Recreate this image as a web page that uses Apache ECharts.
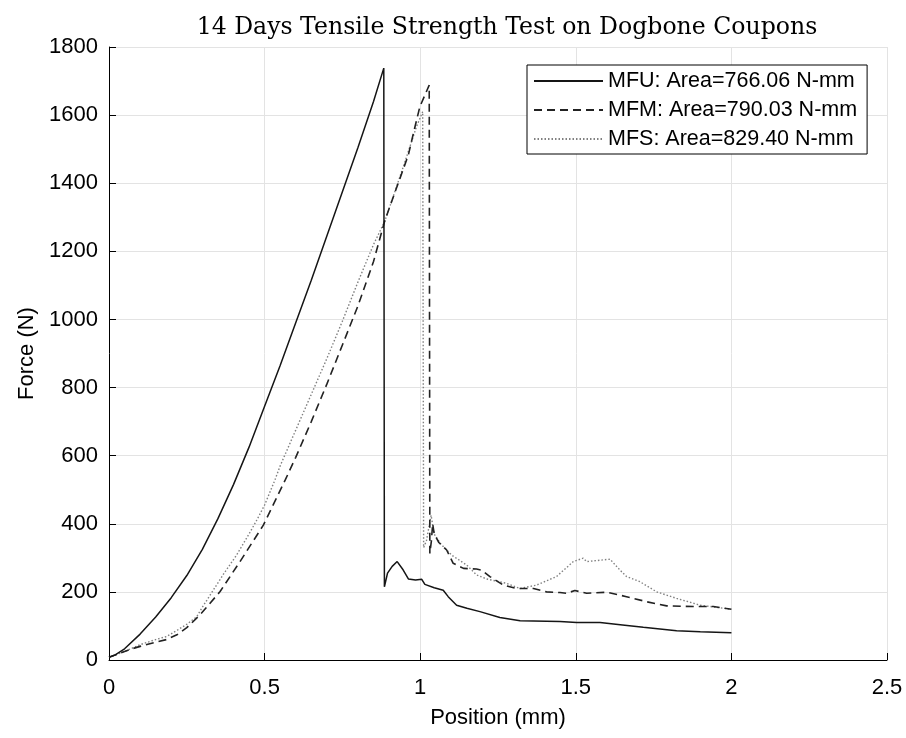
<!DOCTYPE html>
<html>
<head>
<meta charset="utf-8">
<script src="https://cdn.jsdelivr.net/npm/echarts@6/dist/echarts.min.js"></script>
<style>
  html, body {margin: 0; padding: 0; background: #fff;}
  #main {width: 906px; height: 738px;}
</style>
</head>
<body>
<div id="main"></div>
<script>
// 14天拉伸试验数据
var xTicks = [0, 0.5, 1, 1.5, 2, 2.5];
var yTicks = [0, 200, 400, 600, 800, 1000, 1200, 1400, 1600, 1800];

var seriesNames = ["MFU: Area=766.06 N-mm", "MFM: Area=790.03 N-mm", "MFS: Area=829.40 N-mm"];

var mfuX = [0, 0.02, 0.05, 0.1, 0.15, 0.2, 0.25, 0.3, 0.35, 0.4, 0.45, 0.5, 0.55, 0.6, 0.65, 0.7, 0.75, 0.8, 0.85, 0.883,
    0.885, 0.895, 0.91, 0.926, 0.945, 0.962, 0.985, 1.005, 1.015, 1.045, 1.074, 1.09, 1.117, 1.15, 1.192, 1.256,
    1.321, 1.406, 1.449, 1.503, 1.578, 1.65, 1.717, 1.824, 1.9, 2.0];
var mfuY = [8, 15, 33, 76, 126, 183, 248, 325, 415, 515, 625, 745, 865, 990, 1115, 1245, 1375, 1505, 1640, 1738,
    215, 255, 275, 289, 265, 238, 235, 237, 222, 212, 205, 186, 161, 152, 142, 125,
    115, 114, 113, 110, 110, 103, 96, 86, 83, 80];

var mfmX = [0, 0.05, 0.078, 0.1, 0.15, 0.185, 0.22, 0.25, 0.292, 0.357, 0.421, 0.496, 0.566, 0.6, 0.65, 0.7, 0.75, 0.8,
    0.85, 0.885, 0.9, 0.962, 0.978, 0.999, 1.029, 1.031, 1.036, 1.04, 1.045, 1.06, 1.085, 1.106, 1.139, 1.181, 1.197,
    1.224, 1.267, 1.31, 1.364, 1.406, 1.449, 1.471, 1.497, 1.535, 1.599, 1.663, 1.728, 1.792, 1.878, 1.942, 2.0];
var mfmY = [8, 25, 34, 40, 52, 60, 75, 95, 132, 201, 289, 396, 528, 595, 700, 810, 925, 1040,
    1170, 1286, 1325, 1483, 1546, 1625, 1688, 313, 350, 400, 370, 345, 323, 284, 269, 267, 264,
    245, 220, 210, 210, 200, 198, 196, 204, 196, 199, 186, 171, 159, 157, 157, 149];

var mfsX = [0, 0.05, 0.1, 0.15, 0.185, 0.22, 0.25, 0.282, 0.3, 0.335, 0.37, 0.41, 0.45, 0.475, 0.5, 0.533, 0.55, 0.6,
    0.65, 0.7, 0.75, 0.8, 0.85, 0.885, 0.9, 0.95, 0.988, 1.008, 1.011, 1.02, 1.035, 1.045, 1.064, 1.101, 1.149, 1.181,
    1.213, 1.278, 1.321, 1.374, 1.438, 1.492, 1.524, 1.535, 1.61, 1.642, 1.663, 1.706, 1.76, 1.824, 1.899, 2.0];
var mfsY = [8, 25, 45, 60, 69, 88, 105, 127, 155, 205, 255, 308, 370, 411, 455, 528, 570, 675,
    780, 885, 995, 1110, 1220, 1286, 1325, 1460, 1566, 1610, 330, 350, 425, 370, 343, 308, 279, 250,
    238, 225, 210, 220, 245, 289, 299, 289, 296, 264, 245, 230, 200, 181, 161, 149];

function pairs(xs, ys){
    var out = [];
    for (var i = 0; i < xs.length; i ++)
        out.push([xs[i], ys[i]]);
    return out;
}

var labelFont = "'Liberation Sans', Arial, sans-serif";

var option = {
    backgroundColor: '#fff',
    animation: false,
    title: {
        text: "14 Days Tensile Strength Test on Dogbone Coupons",
        left: 502,
        top: 11,
        textAlign: 'center',
        textStyle: {fontFamily: "'DejaVu Serif', serif", fontSize: 23.6, fontWeight: 'normal', color: '#000'}
    },
    grid: {left: 109, right: 19, top: 47, bottom: 78, containLabel: false},
    legend: {
        orient: 'vertical',
        left: 527,
        top: 65,
        padding: [5, 10, 4, 6],
        itemGap: 7,
        itemWidth: 69,
        itemHeight: 14,
        borderColor: '#000',
        borderWidth: 1,
        backgroundColor: '#fff',
        itemStyle: {opacity: 0},
        textStyle: {fontFamily: labelFont, fontSize: 21.5, color: '#000'},
        data: seriesNames
    },
    xAxis: {
        type: 'value',
        min: 0, max: 2.5, interval: 0.5,
        name: 'Position (mm)',
        nameLocation: 'middle',
        nameGap: 47,
        nameTextStyle: {fontFamily: labelFont, fontSize: 22, color: '#000'},
        axisLine: {show: true, onZero: false, lineStyle: {color: '#000', width: 1}},
        axisTick: {show: true, inside: true, length: 7, lineStyle: {color: '#000'}},
        axisLabel: {fontFamily: labelFont, fontSize: 22, color: '#000', margin: 17,
            formatter: function(v){ return String(v); }},
        splitLine: {show: true, lineStyle: {color: '#e3e3e3', width: 1}}
    },
    yAxis: {
        type: 'value',
        min: 0, max: 1800, interval: 200,
        name: 'Force (N)',
        nameLocation: 'middle',
        nameGap: 59,
        nameRotate: 90,
        nameTextStyle: {fontFamily: labelFont, fontSize: 22, color: '#000'},
        axisLine: {show: true, lineStyle: {color: '#000', width: 1}},
        axisTick: {show: true, inside: true, length: 7, lineStyle: {color: '#000'}},
        axisLabel: {fontFamily: labelFont, fontSize: 22, color: '#000', margin: 11,
            formatter: function(v){ return String(v); }},
        splitLine: {show: true, lineStyle: {color: '#e3e3e3', width: 1}}
    },
    series: [
        {name: seriesNames[0], type: 'line', data: pairs(mfuX, mfuY), symbol: 'none',
            itemStyle: {color: '#151515'},
            lineStyle: {color: '#151515', width: 1.5, type: 'solid'}, z: 4},
        {name: seriesNames[1], type: 'line', data: pairs(mfmX, mfmY), symbol: 'none',
            itemStyle: {color: '#222'},
            lineStyle: {color: '#222', width: 1.6, type: [8, 5]}, z: 3},
        {name: seriesNames[2], type: 'line', data: pairs(mfsX, mfsY), symbol: 'none',
            itemStyle: {color: '#808080'},
            lineStyle: {color: '#808080', width: 1.4, type: [1.5, 2]}, z: 2}
    ]
};

var chart = echarts.init(document.getElementById('main'));
chart.setOption(option);
</script>
</body>
</html>
